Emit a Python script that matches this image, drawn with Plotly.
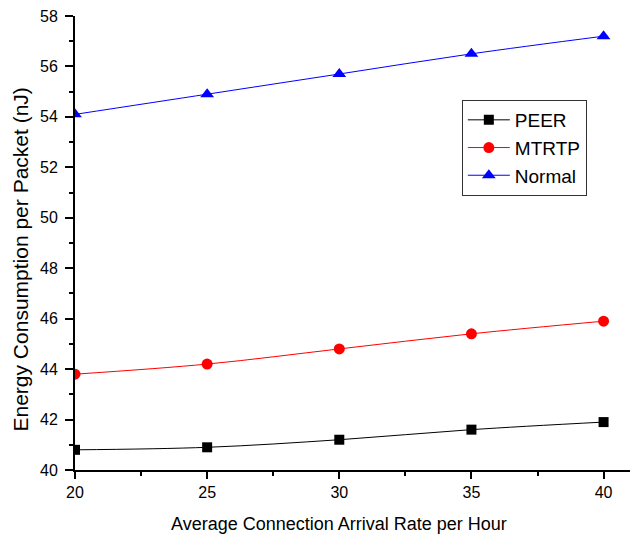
import plotly.graph_objects as go

x = [20, 25, 30, 35, 40]
peer = [40.8, 40.9, 41.2, 41.6, 41.9]
mtrtp = [43.8, 44.2, 44.8, 45.4, 45.9]
normal = [54.1, 54.9, 55.7, 56.5, 57.2]

fig = go.Figure()
fig.add_trace(go.Scatter(x=x, y=peer, name="PEER", mode="lines+markers",
                         line=dict(color="black", width=1, shape="spline"),
                         marker=dict(symbol="square", size=10, color="black")))
fig.add_trace(go.Scatter(x=x, y=mtrtp, name="MTRTP", mode="lines+markers",
                         line=dict(color="red", width=1, shape="spline"),
                         marker=dict(symbol="circle", size=11, color="red")))
fig.add_trace(go.Scatter(x=x, y=normal, name="Normal", mode="lines+markers",
                         line=dict(color="blue", width=1, shape="spline"),
                         marker=dict(symbol="triangle-up", size=12, color="blue")))

fig.update_layout(
    width=633, height=540,
    margin=dict(l=75, r=3, t=16, b=70),
    plot_bgcolor="white", paper_bgcolor="white",
    font=dict(family="Liberation Sans, Arial", color="black", size=16),
    legend=dict(x=0.697, y=0.815, xanchor="left", yanchor="top",
                bordercolor="#333", borderwidth=1, bgcolor="white",
                font=dict(size=19), tracegroupgap=0, itemwidth=42),
    showlegend=True,
    annotations=[
        dict(text="Average Connection Arrival Rate per Hour", xref="paper", yref="paper",
             x=(339 - 75) / 555, y=(470 - 524) / 454, xanchor="center", yanchor="middle",
             showarrow=False, font=dict(size=18)),
        dict(text="Energy Consumption per Packet (nJ)", xref="paper", yref="paper",
             x=(20 - 75) / 555, y=(470 - 259.5) / 454, xanchor="center", yanchor="middle",
             textangle=-90, showarrow=False, font=dict(size=21)),
    ],
)
fig.update_xaxes(range=[20, 41], tickvals=[20, 25, 30, 35, 40],
                 showline=True, linecolor="black", linewidth=2,
                 ticks="outside", ticklen=7, tickwidth=2, tickcolor="black",
                 minor=dict(ticks="outside", ticklen=4, tickwidth=2, dtick=2.5, tickcolor="black"),
                 showgrid=False, zeroline=False,
                 tickfont=dict(size=16))
fig.update_yaxes(range=[40, 58], dtick=2,
                 showline=True, linecolor="black", linewidth=2,
                 ticks="outside", ticklen=8, tickwidth=2, tickcolor="black",
                 minor=dict(ticks="outside", ticklen=4, tickwidth=2, dtick=1, tickcolor="black"),
                 showgrid=False, zeroline=False, ticklabelstandoff=4,
                 tickfont=dict(size=16))

fig.write_html("out.html")
